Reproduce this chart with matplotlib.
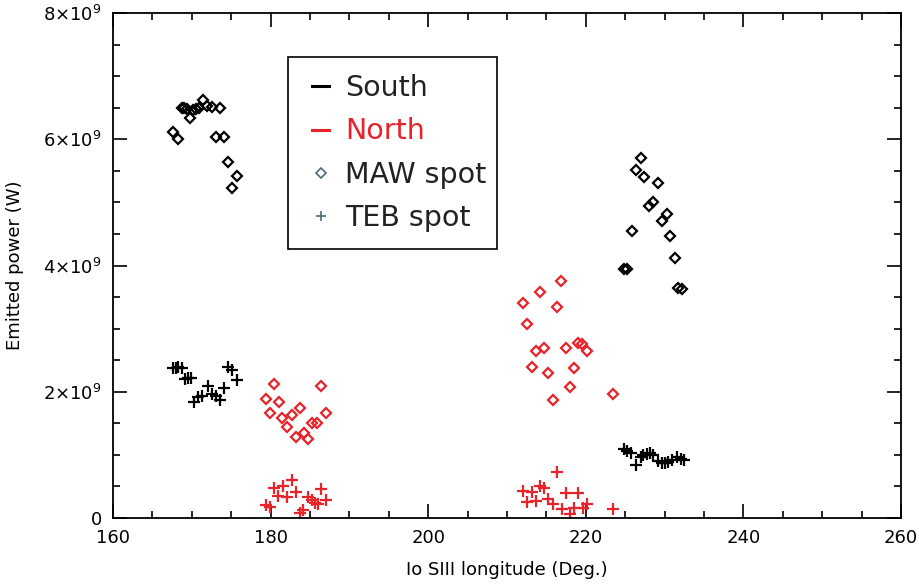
import matplotlib
matplotlib.use("Agg")
import matplotlib.pyplot as plt
from matplotlib.lines import Line2D
from matplotlib.patches import Rectangle
from matplotlib.ticker import MultipleLocator, FuncFormatter
import numpy as np

# South MAW spot (black diamonds)
south_maw_x = [167.65, 168.29, 168.72, 169.05, 169.35, 169.77, 170.19, 170.49, 170.91, 171.38,
               171.89, 172.53, 173.07, 173.58, 174.09, 174.63, 175.70, 175.06,
               226.97, 226.37, 227.42, 229.20, 228.49, 228.06, 230.27, 229.71, 225.82, 230.69,
               231.32, 224.85, 225.19, 231.74, 232.17]
south_maw_y = [6.11, 6.00, 6.50, 6.50, 6.48, 6.34, 6.47, 6.48, 6.49, 6.62,
               6.52, 6.51, 6.03, 6.49, 6.04, 5.64, 5.41, 5.22,
               5.70, 5.51, 5.40, 5.31, 5.01, 4.95, 4.81, 4.71, 4.54, 4.46,
               4.12, 3.94, 3.94, 3.64, 3.62]

# South TEB spot (black plus)
south_teb_x = [167.58, 168.00, 168.29, 168.72, 169.14, 169.56, 169.86, 170.28, 170.75, 171.26,
               172.02, 172.53, 173.07, 173.58, 174.09, 174.63, 175.06, 175.77,
               224.85, 225.27, 225.70, 226.37, 227.01, 227.30, 227.73, 228.15, 228.57, 229.20,
               229.63, 230.05, 230.47, 230.90, 231.53, 232.04, 232.46]
south_teb_y = [2.37, 2.38, 2.39, 2.37, 2.20, 2.21, 2.22, 1.84, 1.92, 1.93,
               2.09, 1.96, 1.94, 1.87, 2.06, 2.39, 2.34, 2.18,
               1.10, 1.06, 1.03, 0.84, 0.97, 1.00, 1.02, 1.03, 1.00, 0.90,
               0.87, 0.87, 0.89, 0.92, 0.96, 0.94, 0.92]

# North MAW spot (red diamonds)
north_maw_x = [180.43, 186.36, 179.38, 181.07, 179.92, 183.73, 181.48, 182.68, 182.12, 187.00,
               185.29, 185.85, 184.24, 183.19, 184.78,
               216.85, 214.19, 212.07, 216.31, 212.58, 213.64, 214.70, 217.45, 219.05, 219.56,
               220.12, 213.13, 215.24, 218.50, 217.99, 215.88, 223.45]
north_maw_y = [2.12, 2.09, 1.89, 1.83, 1.66, 1.75, 1.58, 1.63, 1.44, 1.66,
               1.51, 1.50, 1.34, 1.28, 1.25,
               3.75, 3.58, 3.40, 3.34, 3.08, 2.64, 2.69, 2.69, 2.77, 2.75,
               2.64, 2.39, 2.30, 2.37, 2.08, 1.87, 1.96]

# North TEB spot (red plus)
north_teb_x = [180.43, 181.61, 182.68, 180.98, 182.12, 183.19, 179.42, 179.92, 184.78, 185.21,
               185.63, 186.05, 186.40, 187.03, 183.73, 184.15,
               216.31, 212.07, 213.13, 214.19, 214.73, 212.50, 213.64, 215.24, 215.80, 216.94,
               217.45, 219.05, 218.00, 218.54, 219.68, 220.19, 223.49]
north_teb_y = [0.47, 0.51, 0.60, 0.35, 0.34, 0.41, 0.21, 0.17, 0.33, 0.28,
               0.23, 0.22, 0.46, 0.28, 0.08, 0.13,
               0.73, 0.43, 0.41, 0.51, 0.47, 0.26, 0.27, 0.30, 0.22, 0.14,
               0.39, 0.40, 0.06, 0.16, 0.16, 0.22, 0.14]

x_ticks = [160, 180, 200, 220, 240, 260]
y_ticks = [0, 2e9, 4e9, 6e9, 8e9]
legend_labels = ["South", "North", "MAW spot", "TEB spot"]

RED = "#e8232a"
LEG = "#4d6b73"
scale = 1e9

fig = plt.figure(figsize=(9.19, 5.86), dpi=100)
ax = fig.add_axes([113/919, 1-518/586, (901-113)/919, (518-13)/586])

dkw = dict(linestyle="none", marker="D", markersize=5.5, markerfacecolor="none", markeredgewidth=1.6)
pkw = dict(linestyle="none", marker="+", markersize=8, markeredgewidth=1.6)
ax.plot(south_maw_x, np.array(south_maw_y)*scale, color="black", **dkw)
ax.plot(south_teb_x, np.array(south_teb_y)*scale, color="black", **pkw)
ax.plot(north_maw_x, np.array(north_maw_y)*scale, color=RED, **dkw)
ax.plot(north_teb_x, np.array(north_teb_y)*scale, color=RED, **pkw)

ax.set_xlim(160, 260)
ax.set_ylim(0, 8e9)
ax.set_xticks(x_ticks)
ax.set_yticks(y_ticks)
ax.xaxis.set_minor_locator(MultipleLocator(5))
ax.yaxis.set_minor_locator(MultipleLocator(0.5e9))

def yfmt(v, pos):
    if v == 0:
        return "0"
    return r"%d$\times$10$^{9}$" % round(v/1e9)
ax.yaxis.set_major_formatter(FuncFormatter(yfmt))

ax.tick_params(which="both", direction="in", top=True, right=True, width=1.2, labelsize=13)
ax.tick_params(which="major", length=10, pad=8)
ax.tick_params(which="minor", length=5)
for s in ax.spines.values():
    s.set_linewidth(1.3)

ax.set_xlabel("Io SIII longitude (Deg.)", fontsize=13, labelpad=10)
ax.set_ylabel("Emitted power (W)", fontsize=13, labelpad=14)

handles = [
    Line2D([], [], color="black", lw=2.2),
    Line2D([], [], color=RED, lw=2.2),
    Line2D([], [], color=LEG, marker="D", markersize=5, markerfacecolor="none", linestyle="none", markeredgewidth=1.2),
    Line2D([], [], color=LEG, marker="+", markersize=7, linestyle="none", markeredgewidth=1.2),
]
leg = ax.legend(handles, legend_labels, loc="upper left", bbox_to_anchor=(0.2525, 0.879),
                fontsize=20.5, frameon=False,
                handlelength=0.6, handletextpad=0.56, labelspacing=0.54, borderpad=0,
                borderaxespad=0, labelcolor=["#222222", RED, "#222222", "#222222"])
ax.add_patch(Rectangle((0.2221, 0.5327), 0.2652, 0.380, transform=ax.transAxes,
                       facecolor="none", edgecolor="black", linewidth=1.2, zorder=5))

fig.savefig("out.png", dpi=100)
